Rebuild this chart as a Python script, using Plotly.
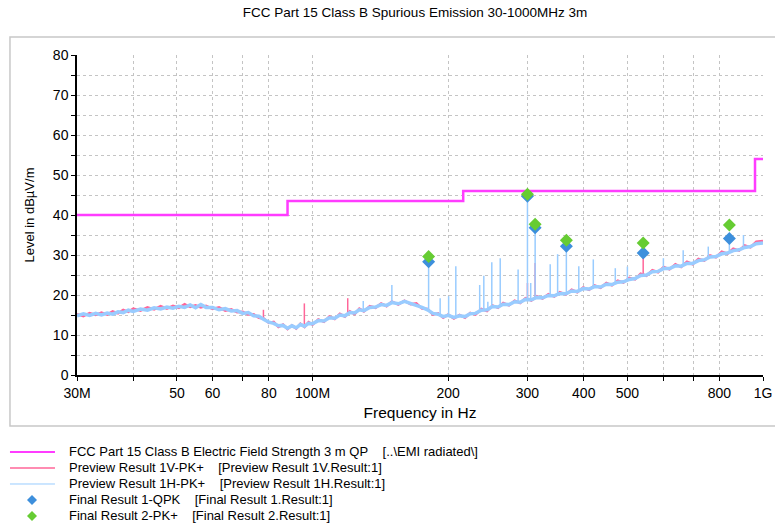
import plotly.graph_objects as go
import numpy as np

# Preview sweep frequency grid (MHz)
freq_mhz = [
    30, 31, 32, 33, 34, 35, 36, 37, 38, 39,
    40, 41.5, 43, 44.5, 46, 47.5, 49, 50.5, 52, 53.5,
    55, 56.5, 58, 60, 62, 64, 66, 68, 70, 72,
    74, 76, 78, 80, 82, 84, 86, 88, 90, 92,
    94, 96, 98, 100, 103, 106, 109, 112, 115, 118,
    121, 124, 127, 130, 134, 138, 142, 146, 150, 155,
    160, 165, 170, 175, 180, 185, 190, 195, 200, 206,
    212, 218, 224, 230, 237, 244, 251, 258, 265, 273,
    281, 289, 297, 306, 315, 324, 334, 344, 354, 365,
    376, 387, 399, 411, 423, 436, 449, 462, 476, 490,
    505, 520, 535, 551, 568, 585, 602, 620, 639, 658,
    678, 698, 719, 741, 763, 786, 810, 834, 859, 885,
    911, 938, 966, 1000,
]

# Preview Result 1V-PK+ (dBuV/m)
level_1v = [
    15.2, 14.7, 15.5, 15.0, 15.6, 15.1, 15.9, 15.4, 16.3, 15.8,
    16.6, 16.1, 16.9, 16.4, 17.2, 16.6, 17.3, 16.8, 17.7, 17.0,
    17.4, 16.9, 17.3, 16.5, 16.9, 16.1, 16.4, 15.7, 15.8, 15.1,
    15.2, 14.3, 14.1, 13.0, 13.3, 12.0, 12.6, 11.5, 12.4, 11.6,
    12.8, 12.0, 13.2, 12.6, 13.9, 13.3, 14.6, 14.0, 15.3, 14.6,
    15.9, 15.2, 16.6, 15.9, 17.2, 16.8, 17.9, 17.2, 18.4, 17.6,
    18.6, 17.7, 17.9, 16.6, 16.5, 15.1, 15.4, 14.3, 15.1, 14.1,
    15.0, 14.3, 15.5, 15.1, 16.5, 16.0, 17.4, 16.8, 18.0, 17.4,
    18.6, 18.0, 19.2, 18.6, 19.7, 19.1, 20.2, 19.6, 20.7, 20.1,
    21.3, 20.7, 21.9, 21.3, 22.4, 21.8, 23.0, 22.4, 23.6, 23.1,
    24.3, 23.9, 25.3, 24.8, 26.2, 25.7, 27.0, 26.4, 27.7, 27.0,
    28.3, 27.7, 29.0, 28.6, 29.9, 29.4, 30.8, 30.3, 31.6, 31.1,
    32.4, 31.9, 33.3, 33.5,
]

# Preview Result 1H-PK+ (dBuV/m)
level_1h = [
    14.8, 15.3, 14.9, 15.4, 15.0, 15.5, 15.2, 15.8, 15.6, 16.2,
    15.9, 16.5, 16.2, 16.8, 16.5, 17.0, 16.7, 17.2, 16.9, 17.5,
    16.8, 17.6, 16.9, 16.9, 16.3, 16.6, 16.0, 16.1, 15.4, 15.6,
    14.8, 14.7, 13.9, 13.2, 12.9, 12.3, 12.4, 11.7, 12.3, 11.8,
    12.6, 12.2, 12.9, 12.8, 13.6, 13.5, 14.3, 14.2, 15.0, 14.8,
    15.6, 15.5, 16.3, 16.1, 16.9, 17.0, 17.6, 17.4, 18.1, 17.8,
    18.4, 17.9, 17.6, 16.9, 16.3, 15.4, 15.2, 14.6, 14.9, 14.4,
    14.8, 14.6, 15.3, 15.4, 16.2, 16.3, 17.1, 17.0, 17.7, 17.6,
    18.3, 18.2, 18.9, 18.8, 19.4, 19.3, 19.9, 19.8, 20.4, 20.3,
    21.0, 20.9, 21.6, 21.5, 22.1, 22.0, 22.7, 22.6, 23.2, 23.3,
    23.9, 24.1, 24.9, 25.0, 25.8, 25.9, 26.6, 26.6, 27.3, 27.2,
    27.9, 27.9, 28.6, 28.8, 29.5, 29.6, 30.3, 30.5, 31.1, 31.3,
    31.9, 32.1, 32.8, 33.0,
]

# Narrow spurious peaks seen in the preview sweeps
spike_1h_freq = [129.6, 150, 181, 192, 200.5, 208, 235, 240, 245, 250, 261, 286,
                 300, 305, 312, 337, 350, 366, 390, 420, 470, 500, 601, 665, 756, 842, 905]
spike_1h_level = [18.5, 22.5, 28.3, 19.2, 19.7, 27.2, 22.5, 24.8, 18.3, 28.2, 29.2, 26.4,
                  45.0, 23.0, 37.0, 27.7, 30.2, 32.1, 27.2, 28.9, 26.7, 27.1, 29.2, 31.2, 32.1, 34.2, 35.0]
spike_1v_freq = [77.8, 95.9, 119.7, 300, 312, 542]
spike_1v_level = [16.3, 17.9, 19.2, 23.0, 28.0, 29.6]

# FCC Part 15 Class B 3 m QP limit
limit_freq = [30, 88, 216, 960, 1000]
limit_level = [40, 43.5, 46, 54, 54]

# Final measurements
final_freq = [181, 300, 312, 366, 542, 842]
final_qpk = [28.3, 44.7, 36.8, 32.2, 30.5, 34.1]
final_pk = [29.6, 45.2, 37.7, 33.7, 33.0, 37.5]

x_tickvals = [30, 40, 50, 60, 70, 80, 100, 200, 300, 400, 500, 600, 700, 800, 1000]
x_ticktext = ['30M', '', '50', '60', '', '80', '100M', '200', '300', '400', '500', '', '', '800', '1G']

legend_names = [
    'FCC Part 15 Class B Electric Field Strength 3 m QP    [..\\EMI radiated\\]',
    'Preview Result 1V-PK+    [Preview Result 1V.Result:1]',
    'Preview Result 1H-PK+    [Preview Result 1H.Result:1]',
    'Final Result 1-QPK    [Final Result 1.Result:1]',
    'Final Result 2-PK+    [Final Result 2.Result:1]',
]

LIMIT_COLOR = '#ff3cff'
V_COLOR = '#ff6699'
H_COLOR = '#99ccff'
QPK_COLOR = '#3d8fdc'
PK_COLOR = '#66cc33'
FONT = 'Liberation Sans, Arial, sans-serif'

FIG_W, FIG_H = 775, 525
PLOT_W, PLOT_H = 686, 320


def spike_segments(freqs, peaks, base_freq, base_level):
    """Vertical segments from the sweep floor up to each peak"""
    log_base = np.log10(base_freq)
    xs, ys = [], []
    for f, p in zip(freqs, peaks):
        foot = float(np.interp(np.log10(f), log_base, base_level))
        xs += [f, f, None]
        ys += [foot, p, None]
    return xs, ys


def diamond_path(xc, yc, half_px=5):
    """Diamond outline in paper coordinates"""
    dx = half_px / PLOT_W
    dy = half_px / PLOT_H
    return f'M {xc - dx},{yc} L {xc},{yc + dy} L {xc + dx},{yc} L {xc},{yc - dy} Z'


fig = go.Figure()

fig.add_trace(go.Scatter(x=limit_freq, y=limit_level, mode='lines', line_shape='hv',
                         line=dict(color=LIMIT_COLOR, width=2.5)))

fig.add_trace(go.Scatter(x=freq_mhz, y=level_1v, mode='lines',
                         line=dict(color=V_COLOR, width=2.5)))
sx, sy = spike_segments(spike_1v_freq, spike_1v_level, freq_mhz, level_1v)
fig.add_trace(go.Scatter(x=sx, y=sy, mode='lines', line=dict(color=V_COLOR, width=1.5)))

fig.add_trace(go.Scatter(x=freq_mhz, y=level_1h, mode='lines',
                         line=dict(color=H_COLOR, width=3.5)))
sx, sy = spike_segments(spike_1h_freq, spike_1h_level, freq_mhz, level_1h)
fig.add_trace(go.Scatter(x=sx, y=sy, mode='lines', line=dict(color=H_COLOR, width=1.5)))

fig.add_trace(go.Scatter(x=final_freq, y=final_qpk, mode='markers',
                         marker=dict(symbol='diamond', size=10, color=QPK_COLOR)))
fig.add_trace(go.Scatter(x=final_freq, y=final_pk, mode='markers',
                         marker=dict(symbol='diamond', size=10, color=PK_COLOR)))

# Hand-drawn legend below the plot (tighter rows than plotly's legend)
legend_rows = [-0.2406, -0.2906, -0.3406, -0.3906, -0.4406]
legend_colors = [LIMIT_COLOR, V_COLOR, H_COLOR, QPK_COLOR, PK_COLOR]
line_widths = [2, 1.5, 1]
for i, (name, ypos) in enumerate(zip(legend_names, legend_rows)):
    fig.add_annotation(x=-0.0153, y=ypos, xref='paper', yref='paper', xanchor='left',
                       yanchor='middle', showarrow=False, text=name.replace(' ', '\u00a0'),
                       font=dict(size=13, color='#000000', family=FONT))
    if i < 3:
        fig.add_shape(type='line', xref='paper', yref='paper', x0=-0.0977, x1=-0.0321,
                      y0=ypos, y1=ypos, line=dict(color=legend_colors[i], width=line_widths[i]))
    else:
        fig.add_shape(type='path', xref='paper', yref='paper', path=diamond_path(-0.0656, ypos),
                      fillcolor=legend_colors[i], line=dict(width=0))

# Outer frame around the plot
fig.add_shape(type='rect', xref='paper', yref='paper', x0=-0.0977, x1=1.03, y0=-0.159, y1=1.0563,
              line=dict(color='#c8c8c8', width=1.5), layer='below')

grid = dict(gridcolor='#c4c4c4', griddash='dot', gridwidth=1)

fig.update_layout(
    width=FIG_W,
    height=FIG_H,
    showlegend=False,
    plot_bgcolor='white',
    paper_bgcolor='white',
    font=dict(family=FONT, size=13, color='#000000'),
    title=dict(text='FCC Part 15 Class B Spurious Emission 30-1000MHz 3m', x=0.5355, xref='container',
               xanchor='center', y=0.9771, yref='container', yanchor='middle', font=dict(size=13.5)),
    margin=dict(l=77, r=12, t=55, b=150),
    xaxis=dict(
        type='log', range=[np.log10(30), np.log10(1000)],
        tickvals=x_tickvals, ticktext=x_ticktext,
        ticks='outside', ticklen=4, tickcolor='black', tickfont=dict(size=14),
        showline=True, linecolor='black', linewidth=1.5, zeroline=False, automargin=False,
        title=dict(text='Frequency in Hz', font=dict(size=15.5), standoff=8),
        **grid,
    ),
    yaxis=dict(
        range=[0, 80], tickvals=list(range(0, 81, 10)),
        ticks='outside', ticklen=4, tickcolor='black', tickfont=dict(size=14),
        showline=True, linecolor='black', linewidth=1.5, zeroline=False, automargin=False,
        title=dict(text='Level in dBµV/m', font=dict(size=13), standoff=15),
        minor=dict(dtick=5, ticks='outside', ticklen=4, tickcolor='black', showgrid=True, **grid),
        **grid,
    ),
)

# drop the default body margin so the 775x525 figure fills the window exactly
fig.write_html('out.html', config={'displayModeBar': False},
               post_script="document.body.style.margin = '0';")
